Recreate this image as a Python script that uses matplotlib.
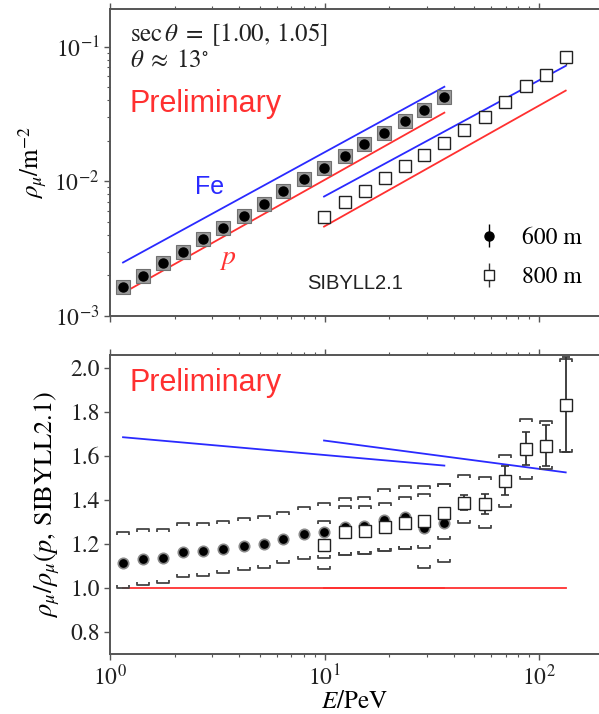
import matplotlib
matplotlib.use("Agg")
import matplotlib.pyplot as plt
import numpy as np
from matplotlib.path import Path

plt.rcParams['mathtext.fontset'] = 'stix'
plt.rcParams['font.family'] = ['STIXGeneral', 'DejaVu Serif']

# ---------------- data ----------------
E600 = [1.15, 1.42, 1.76, 2.20, 2.72, 3.38, 4.22, 5.22, 6.43, 8.03, 9.95,
        12.4, 15.2, 18.9, 23.7, 29.2, 36.2]
rho600 = [1.65e-3, 1.98e-3, 2.46e-3, 3.01e-3, 3.72e-3, 4.49e-3, 5.54e-3,
          6.81e-3, 8.40e-3, 1.035e-2, 1.254e-2, 1.55e-2, 1.90e-2, 2.28e-2,
          2.82e-2, 3.40e-2, 4.20e-2]
ratio600 = [1.113, 1.131, 1.136, 1.164, 1.169, 1.179, 1.192, 1.202, 1.222,
            1.245, 1.257, 1.279, 1.283, 1.311, 1.321, 1.275, 1.295]
sys600_up = [1.257, 1.268, 1.268, 1.295, 1.295, 1.306, 1.318, 1.329, 1.347,
             1.367, 1.385, 1.410, 1.412, 1.451, 1.463, 1.428, 1.474]
sys600_lo = [0.999, 1.012, 1.025, 1.048, 1.055, 1.067, 1.080, 1.092, 1.112,
             1.132, 1.138, 1.149, 1.157, 1.169, 1.179, 1.093, 1.120]

E800 = [9.95, 12.5, 15.4, 19.2, 23.8, 29.2, 36.2, 44.7, 56.0, 69.4, 86.7,
        107.5, 133.2]
rho800 = [5.42e-3, 7.00e-3, 8.49e-3, 1.056e-2, 1.29e-2, 1.574e-2, 1.94e-2,
          2.415e-2, 2.98e-2, 3.855e-2, 5.13e-2, 6.19e-2, 8.32e-2]
ratio800 = [1.196, 1.253, 1.260, 1.279, 1.294, 1.306, 1.341, 1.389, 1.382,
            1.489, 1.633, 1.648, 1.834]
stat800 = [0.01, 0.01, 0.01, 0.01, 0.015, 0.02, 0.025, 0.035, 0.045, 0.065,
           0.075, 0.095, 0.215]
sys800_up = [1.306, 1.374, 1.374, 1.389, 1.412, 1.463, 1.474, 1.516, 1.507,
             1.603, 1.770, 1.759, 2.044]
sys800_lo = [1.085, 1.149, 1.157, 1.169, 1.179, 1.184, 1.222, 1.294, 1.273,
             1.367, 1.496, 1.542, 1.618]

# simulation (SIBYLL2.1) lines
simE600 = [1.15, 36.2]
p600 = [1.48e-3, 3.23e-2]
fe_ratio600 = [1.686, 1.557]
simE800 = [9.95, 133.2]
p800 = [4.61e-3, 4.71e-2]
fe_ratio800 = [1.671, 1.526]

# ---------------- figure ----------------
W, H = 599, 714
fig = plt.figure(figsize=(W / 100, H / 100), dpi=100)

def pos(x0, y0, x1, y1):
    return [x0 / W, 1 - y1 / H, (x1 - x0) / W, (y1 - y0) / H]

ax1 = fig.add_axes(pos(110, 9, 599, 316))
ax2 = fig.add_axes(pos(110, 355, 599, 654))

xlim = (1.0, 190.4)
spine_c = '#555555'
for ax in (ax1, ax2):
    ax.set_xscale('log')
    ax.set_xlim(*xlim)
    for s in ax.spines.values():
        s.set_color(spine_c)
        s.set_linewidth(1.4)
    ax.spines['right'].set_visible(False)
    ax.tick_params(which='both', direction='out', color=spine_c,
                   top=True, bottom=True, left=True, right=False,
                   labelsize=17, labelcolor='#222222')
    ax.tick_params(which='major', length=4, width=1)
    ax.tick_params(which='minor', length=2.5, width=0.8)

blue = '#2a2aff'
red = '#ff3030'

# ---- top panel ----
ax1.set_yscale('log')
ax1.set_ylim(1e-3, 0.19)
ax1.plot(simE600, p600, color=red, lw=1.3)
ax1.plot(simE600, np.array(p600) * np.array(fe_ratio600), color=blue, lw=1.3)
ax1.plot(simE800, p800, color=red, lw=1.3)
ax1.plot(simE800, np.array(p800) * np.array(fe_ratio800), color=blue, lw=1.3)

ax1.plot(E600, rho600, ls='none', marker='s', ms=9.5, mfc='#9a9a9a',
         mec='#707070', mew=0.8, zorder=3)
ax1.plot(E600, rho600, ls='none', marker='o', ms=6.5, mfc='black',
         mec='black', zorder=4)
err800 = np.array(rho800) * np.array(stat800) / np.array(ratio800)
ax1.errorbar(E800, rho800, yerr=err800, ls='none', color='#333333',
             elinewidth=1, zorder=3)
ax1.plot(E800, rho800, ls='none', marker='s', ms=8.5, mfc='white',
         mec='#222222', mew=1.0, zorder=4)

ax1.tick_params(axis='x', which='both', labelbottom=False)

ax1.text(0.04, 0.915, r'$\sec\theta\;=\;[1.00,\,1.05]$',
         transform=ax1.transAxes, fontsize=18, ha='left', va='center',
         color='#222222')
ax1.text(0.04, 0.83, r'$\theta\;\approx\;13^{\circ}$', transform=ax1.transAxes,
         fontsize=18, ha='left', va='center', color='#222222')
ax1.text(0.04, 0.69, 'Preliminary', transform=ax1.transAxes, fontsize=22,
         ha='left', va='center', color=red, family='Liberation Sans')
ax1.text(0.204, 0.42, 'Fe', transform=ax1.transAxes, fontsize=18,
         ha='center', va='center', color=blue, family='Liberation Sans')
ax1.text(0.241, 0.185, r'$p$', transform=ax1.transAxes, fontsize=20,
         ha='center', va='center', color=red)
ax1.text(0.403, 0.107, 'SIBYLL2.1', transform=ax1.transAxes, fontsize=14.5,
         ha='left', va='center', color='#222222', family='Liberation Sans')

h600 = ax1.errorbar([], [], yerr=[], ls='none', marker='o', ms=6.5,
                    color='black', mfc='black', elinewidth=1)
h800 = ax1.errorbar([], [], yerr=[], ls='none', marker='s', ms=7,
                    color='#333333', mfc='white', mec='#222222', elinewidth=1)
leg = ax1.legend([h600, h800], ['600 m', '800 m'], loc='lower right',
                 bbox_to_anchor=(0.985, 0.06), frameon=False, fontsize=17,
                 handlelength=1.0, handletextpad=0.9, labelspacing=0.75,
                 borderaxespad=0.0)

ax1.set_ylabel(r'$\rho_\mu/\mathrm{m}^{-2}$', fontsize=18, labelpad=4)

# ---- bottom panel ----
ax2.set_ylim(0.7, 2.06)
ax2.set_yticks([0.8, 1.0, 1.2, 1.4, 1.6, 1.8, 2.0])
ax2.set_yticklabels(['0.8', '1.0', '1.2', '1.4', '1.6', '1.8', '2.0'])

ax2.plot(simE600, [1.0, 1.0], color=red, lw=1.3)
ax2.plot(simE800, [1.0, 1.0], color=red, lw=1.3)
ax2.plot(simE600, fe_ratio600, color=blue, lw=1.3)
ax2.plot(simE800, fe_ratio800, color=blue, lw=1.3)

up_br = Path([(-1, -0.45), (-1, 0), (1, 0), (1, -0.45)],
             [Path.MOVETO, Path.LINETO, Path.LINETO, Path.LINETO])
lo_br = Path([(-1, 0.45), (-1, 0), (1, 0), (1, 0.45)],
             [Path.MOVETO, Path.LINETO, Path.LINETO, Path.LINETO])
br_kw = dict(ls='none', ms=9, mfc='none', mec='#444444', mew=1.3, zorder=2)
ax2.plot(E600, sys600_up, marker=up_br, **br_kw)
ax2.plot(E600, sys600_lo, marker=lo_br, **br_kw)
ax2.plot(E800, sys800_up, marker=up_br, **br_kw)
ax2.plot(E800, sys800_lo, marker=lo_br, **br_kw)

ax2.errorbar(E800, ratio800, yerr=stat800, ls='none', color='#333333',
             elinewidth=1.3, capsize=3, capthick=1.2, zorder=3)
ax2.plot(E600, ratio600, ls='none', marker='o', ms=7.5, mfc='black',
         mec='#8a8a8a', mew=1.2, zorder=4)
ax2.plot(E800, ratio800, ls='none', marker='s', ms=8.5, mfc='white',
         mec='#222222', mew=1.0, zorder=5)

ax2.text(0.04, 0.905, 'Preliminary', transform=ax2.transAxes, fontsize=22,
         ha='left', va='center', color=red, family='Liberation Sans')

ax2.set_ylabel(r'$\rho_\mu/\rho_\mu(p,\,\mathrm{SIBYLL2.1})$', fontsize=19,
               labelpad=6)
ax2.set_xlabel(r'$E/\mathrm{PeV}$', fontsize=18, labelpad=0)

fig.savefig('out.png', dpi=100)
